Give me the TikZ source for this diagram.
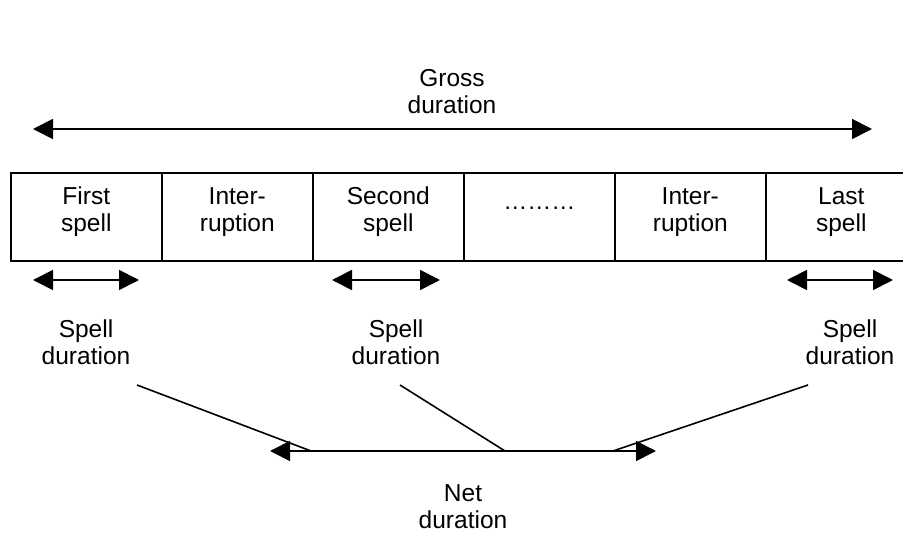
\documentclass[tikz,border=0pt]{standalone}
\usepackage{fontspec}
\setmainfont{Liberation Sans}
\usetikzlibrary{arrows.meta}
\begin{document}
\begin{tikzpicture}[x=1pt,y=-1pt,
  lbl/.style={align=center,inner sep=0pt,font=\fontsize{24.5}{27}\selectfont},
  cell/.style={draw,line width=1.6pt,minimum width=151pt,minimum height=88pt,inner sep=0pt,anchor=north west},
  dbl/.style={line width=1.8pt,{Triangle[length=20pt,width=20pt]}-{Triangle[length=20pt,width=20pt]}},
  conn/.style={line width=1.6pt}]
\useasboundingbox (0,0) rectangle (903,534);
% cells
\node[cell] (c1) at (10,172) {};
\node[cell] (c2) at (161,172) {};
\node[cell] (c3) at (312,172) {};
\node[cell] (c4) at (463,172) {};
\node[cell] (c5) at (614,172) {};
\node[cell] (c6) at (765,172) {};
\node[lbl] (t1) at ([yshift=5pt]c1.center) {First\\spell};
\node[lbl] (t2) at ([yshift=5pt]c2.center) {Inter-\\ruption};
\node[lbl] (t3) at ([yshift=5pt]c3.center) {Second\\spell};
\node[lbl,font=\fontsize{24}{26}\selectfont] (t4) at ([yshift=9pt]c4.center) {………};
\node[lbl] (t5) at ([yshift=5pt]c5.center) {Inter-\\ruption};
\node[lbl] (t6) at ([yshift=5pt]c6.center) {Last\\spell};
% gross
\node[lbl] (gross) at (452,92) {Gross\\duration};
\coordinate (gl) at (33,129);
\coordinate (gr) at (872,129);
\draw[dbl] (gl) -- (gr);
% spell durations
\coordinate (s1l) at (33,280); \coordinate (s1r) at (139,280);
\coordinate (s2l) at (332,280); \coordinate (s2r) at (440,280);
\coordinate (s3l) at (787,280); \coordinate (s3r) at (893,280);
\draw[dbl] (s1l) -- (s1r);
\draw[dbl] (s2l) -- (s2r);
\draw[dbl] (s3l) -- (s3r);
\node[lbl] (d1) at (86,342) {Spell\\duration};
\node[lbl] (d2) at (396,342) {Spell\\duration};
\node[lbl] (d3) at (850,342) {Spell\\duration};
% net
\coordinate (nl) at (270,451);
\coordinate (nr) at (656,451);
\draw[dbl] (nl) -- (nr);
\node[lbl] (net) at (463,507) {Net\\duration};
\coordinate (a1) at (137,385); \coordinate (b1) at (311,451);
\coordinate (a2) at (400,385); \coordinate (b2) at (505,451);
\coordinate (a3) at (808,385); \coordinate (b3) at (613,451);
\draw[conn] (a1) -- (b1);
\draw[conn] (a2) -- (b2);
\draw[conn] (a3) -- (b3);
\end{tikzpicture}
\end{document}
